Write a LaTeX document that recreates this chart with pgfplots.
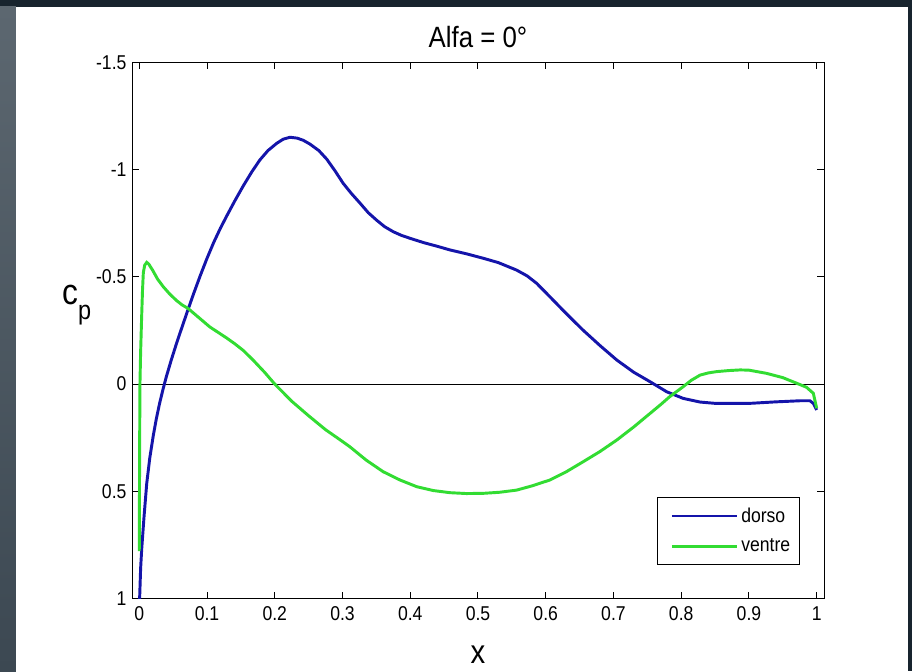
\documentclass[border=0pt]{standalone}
\usepackage{pgfplots}
\pgfplotsset{compat=1.18}
\usepackage{fontspec}
\setmainfont{Liberation Sans}[FakeStretch=0.88]
\definecolor{dorso}{RGB}{20,20,170}
\definecolor{ventre}{RGB}{50,220,50}
\definecolor{bgdark}{RGB}{24,36,46}
\definecolor{bgtop}{RGB}{92,103,112}
\definecolor{bgbot}{RGB}{60,72,82}
\pgfplotstableread{
x cp
0.0 1.05
0.002 0.86
0.0035 0.775
0.007 0.62
0.011 0.464
0.0155 0.345
0.0207 0.24
0.025 0.165
0.030 0.09
0.035 0.025
0.040 -0.035
0.047 -0.11
0.055 -0.19
0.063 -0.265
0.072 -0.348
0.080 -0.42
0.090 -0.506
0.100 -0.587
0.110 -0.662
0.120 -0.729
0.130 -0.79
0.141 -0.855
0.1535 -0.925
0.166 -0.99
0.178 -1.046
0.19 -1.09
0.203 -1.124
0.2125 -1.143
0.2225 -1.152
0.233 -1.148
0.242 -1.138
0.252 -1.12
0.265 -1.09
0.2767 -1.05
0.289 -0.995
0.301 -0.937
0.313 -0.89
0.326 -0.844
0.338 -0.80
0.350 -0.766
0.362 -0.735
0.375 -0.711
0.387 -0.694
0.400 -0.680
0.42 -0.66
0.44 -0.643
0.4587 -0.626
0.483 -0.608
0.508 -0.587
0.53 -0.567
0.557 -0.532
0.5725 -0.505
0.5867 -0.470
0.606 -0.408
0.63 -0.33
0.655 -0.252
0.68 -0.18
0.705 -0.112
0.73 -0.055
0.754 -0.011
0.7786 0.036
0.803 0.067
0.828 0.084
0.85 0.09
0.875 0.09
0.9015 0.09
0.94 0.083
0.975 0.078
0.99 0.078
0.995 0.09
1.0 0.121
}\dorsotab
\pgfplotstableread{
x cp
0.0 0.78
0.0003 0.5
0.0006 0.25
0.001 0.0
0.002 -0.15
0.0035 -0.314
0.0048 -0.44
0.006 -0.52
0.008 -0.555
0.011 -0.568
0.014 -0.56
0.02 -0.53
0.027 -0.49
0.0355 -0.454
0.045 -0.42
0.055 -0.39
0.063 -0.37
0.072 -0.353
0.088 -0.31
0.104 -0.267
0.116 -0.242
0.129 -0.215
0.141 -0.188
0.1535 -0.157
0.168 -0.112
0.185 -0.055
0.2 0.0
0.225 0.08
0.25 0.148
0.275 0.213
0.3 0.268
0.311 0.293
0.335 0.355
0.360 0.409
0.385 0.448
0.4095 0.479
0.434 0.497
0.4587 0.507
0.483 0.511
0.508 0.510
0.532 0.505
0.557 0.495
0.58 0.475
0.606 0.448
0.63 0.41
0.655 0.363
0.68 0.315
0.705 0.261
0.73 0.2
0.754 0.137
0.77 0.095
0.783 0.059
0.803 0.012
0.815 -0.018
0.828 -0.042
0.84 -0.052
0.852 -0.058
0.87 -0.063
0.887 -0.066
0.9 -0.065
0.926 -0.05
0.95 -0.03
0.975 0.002
0.985 0.015
0.995 0.043
1.0 0.113
}\ventretab
\begin{document}
\begin{tikzpicture}
\fill[bgdark,use as bounding box] (-99.375pt,-54.525pt) rectangle (584.625pt,448.725pt);
\shade[top color=bgtop,bottom color=bgbot] (-99.375pt,-54.525pt) rectangle (-87.375pt,443.475pt);
\fill[white] (-87.375pt,-54.525pt) rectangle (581.625pt,443.475pt);
\begin{axis}[
  at={(0pt,0pt)}, anchor=south west,
  scale only axis, width=518.625pt, height=401.7pt,
  xmin=-0.01, xmax=1.0108, ymin=-1.5, ymax=1, y dir=reverse,
  xtick={0,0.1,0.2,0.3,0.4,0.5,0.6,0.7,0.8,0.9,1},
  xticklabels={0,0.1,0.2,0.3,0.4,0.5,0.6,0.7,0.8,0.9,1},
  ytick={-1.5,-1,-0.5,0,0.5,1},
  yticklabels={-1.5,-1,-0.5,0,0.5,1},
  tick align=inside, major tick length=5pt,
  tick style={black, line width=0.75pt},
  axis line style={black, line width=0.75pt},
  ticklabel style={font=\fontsize{15}{17}\selectfont},
  xticklabel style={yshift=-3pt},
  yticklabel style={xshift=-1pt},
  legend style={at={(0.9653,0.0622)}, anchor=south east, draw=black, line width=0.75pt,
    font=\fontsize{15}{17}\selectfont, inner xsep=5pt, inner ysep=6pt, row sep=7pt,
    nodes={inner sep=2pt}},
  legend cell align=left,
  legend image code/.code={\path (0pt,0pt); \draw[#1] (5pt,0pt) -- (54pt,0pt);},
]
\addplot[black, line width=0.75pt, forget plot] coordinates {(-0.01,0) (1.0108,0)};
\addplot[dorso, line width=2.2pt] table[x=x,y=cp] {\dorsotab};
\addlegendentry{dorso}
\addplot[ventre, line width=2.2pt] table[x=x,y=cp] {\ventretab};
\addlegendentry{ventre}
\end{axis}
\node[font=\fontsize{22}{26}\selectfont] at (259.1pt,421pt) {Alfa = 0°};
\node[inner sep=0pt, font=\fontsize{25}{30}\selectfont] at (259.1pt,-42pt) {x};
\node[anchor=base west, inner sep=0pt, font=\fontsize{27}{30}\selectfont] at (-52.9pt,220pt) {c\raisebox{-11pt}{\fontsize{20}{22}\selectfont p}};
\end{tikzpicture}
\end{document}
